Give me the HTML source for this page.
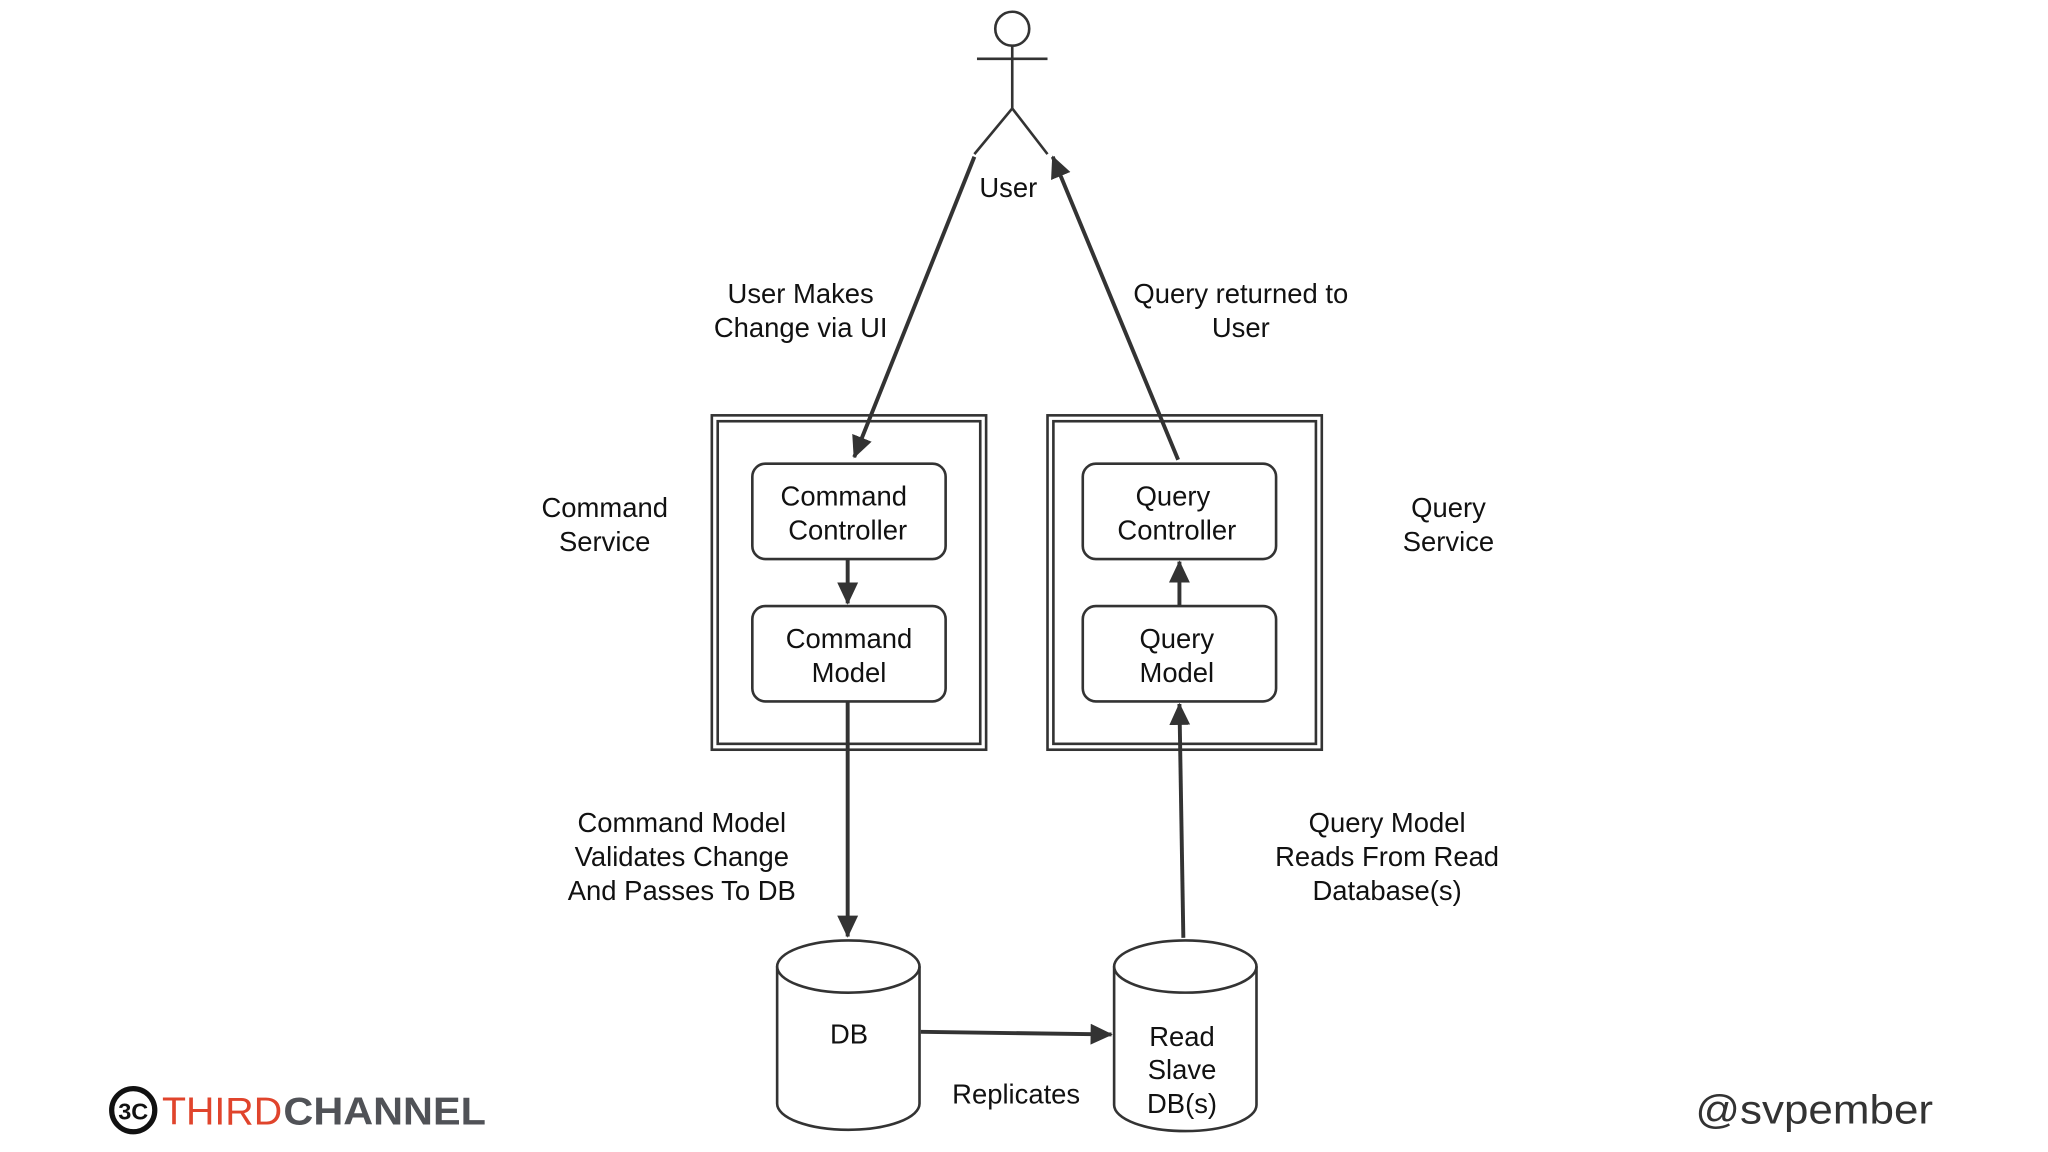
<!DOCTYPE html>
<html><head><meta charset="utf-8"><style>
html,body{margin:0;padding:0;background:#fff;}
svg{display:block;}
text{font-family:"Liberation Sans",sans-serif;fill:#111;}
</style></head><body>
<svg width="2048" height="1152" viewBox="0 0 1568 882" xmlns="http://www.w3.org/2000/svg">
<defs>
<marker id="ahb" markerWidth="18" markerHeight="18" refX="16" refY="9" orient="auto" markerUnits="userSpaceOnUse">
<path d="M0,1 L17,9 L0,17 z" fill="#333"/>
</marker>
</defs>
<g stroke="#333" stroke-width="2" fill="none">
<circle cx="775" cy="22" r="13"/>
<line x1="775" y1="35" x2="775" y2="83"/>
<line x1="748" y1="45" x2="802" y2="45"/>
<line x1="775" y1="83" x2="746" y2="118"/>
<line x1="775" y1="83" x2="802" y2="118"/>
</g>
<g stroke="#333" stroke-width="3" fill="none">
<line x1="746" y1="120" x2="654" y2="350" marker-end="url(#ahb)"/>
<line x1="902" y1="352" x2="806" y2="120" marker-end="url(#ahb)"/>
<line x1="649" y1="428" x2="649" y2="462" marker-end="url(#ahb)"/>
<line x1="903" y1="464" x2="903" y2="430" marker-end="url(#ahb)"/>
<line x1="649" y1="537" x2="649" y2="717" marker-end="url(#ahb)"/>
<line x1="906" y1="718" x2="903" y2="539" marker-end="url(#ahb)"/>
<line x1="705" y1="790" x2="851" y2="792" marker-end="url(#ahb)"/>
</g>
<g stroke="#333" stroke-width="2" fill="none">
<rect x="545" y="318" width="210" height="256"/>
<rect x="549.5" y="322.5" width="201" height="247"/>
<rect x="802" y="318" width="210" height="256"/>
<rect x="806.5" y="322.5" width="201" height="247"/>
<rect x="576" y="355" width="148" height="73" rx="10" fill="#fff"/>
<rect x="576" y="464" width="148" height="73" rx="10" fill="#fff"/>
<rect x="829" y="355" width="148" height="73" rx="10" fill="#fff"/>
<rect x="829" y="464" width="148" height="73" rx="10" fill="#fff"/>
<path d="M595,740 A54.5,20 0 0 1 704,740 L704,845 A54.5,20 0 0 1 595,845 Z" fill="#fff"/>
<path d="M595,740 A54.5,20 0 0 0 704,740"/>
<path d="M853,740 A54.5,20 0 0 1 962,740 L962,846 A54.5,20 0 0 1 853,846 Z" fill="#fff"/>
<path d="M853,740 A54.5,20 0 0 0 962,740"/>
</g>
<g font-size="21" text-anchor="middle">
<text x="772" y="151">User</text>
<text x="613" y="232">User Makes</text>
<text x="613" y="258">Change via UI</text>
<text x="950" y="232">Query returned to</text>
<text x="950" y="258">User</text>
<text x="463" y="396">Command</text>
<text x="463" y="422">Service</text>
<text x="1109" y="396">Query</text>
<text x="1109" y="422">Service</text>
<text x="646" y="387">Command</text>
<text x="649" y="413">Controller</text>
<text x="650" y="496">Command</text>
<text x="650" y="522">Model</text>
<text x="898" y="387">Query</text>
<text x="901" y="413">Controller</text>
<text x="901" y="496">Query</text>
<text x="901" y="522">Model</text>
<text x="522" y="637">Command Model</text>
<text x="522" y="663">Validates Change</text>
<text x="522" y="689">And Passes To DB</text>
<text x="1062" y="637">Query Model</text>
<text x="1062" y="663">Reads From Read</text>
<text x="1062" y="689">Database(s)</text>
<text x="650" y="799">DB</text>
<text x="905" y="801">Read</text>
<text x="905" y="826">Slave</text>
<text x="905" y="852">DB(s)</text>
<text x="778" y="845">Replicates</text>
</g>
<circle cx="102" cy="850" r="16.5" fill="none" stroke="#111" stroke-width="4"/>
<text x="102" y="857" font-size="18" font-weight="bold" text-anchor="middle" style="fill:#111">3C</text>
<text x="124" y="861" font-size="30" style="fill:#e0442c" textLength="92" lengthAdjust="spacingAndGlyphs">THIRD</text>
<text x="217" y="861" font-size="30" font-weight="bold" style="fill:#505257" textLength="155" lengthAdjust="spacingAndGlyphs">CHANNEL</text>
<text x="1480" y="860" font-size="31" text-anchor="end" style="fill:#333" textLength="182" lengthAdjust="spacingAndGlyphs">@svpember</text>
</svg>
</body></html>
